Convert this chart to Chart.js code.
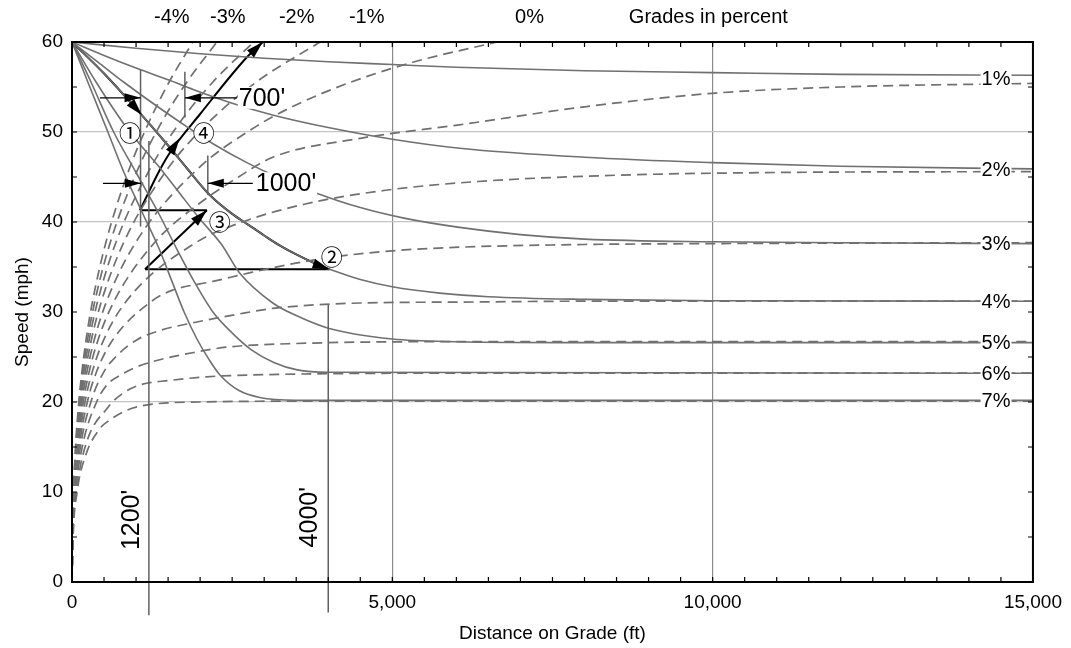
<!DOCTYPE html>
<html><head><meta charset="utf-8">
<script src="https://cdn.jsdelivr.net/npm/chart.js@4.4.1/dist/chart.umd.min.js"></script>
<style>html,body{margin:0;padding:0;background:#fff;}#c{display:block;}</style>
</head><body>
<canvas id="c" width="1071" height="648"></canvas>
<script>
// ---------- DATA (distance on grade in ft, speed in mph) ----------
// Deceleration curves (solid), upgrades 1%..7%
const decel1 = [[0,60],[1000,59.3],[2000,58.7],[3000,58.2],[4000,57.8],[5000,57.5],[6000,57.2],[8000,56.8],[10000,56.6],[12000,56.4],[15000,56.3]];
const decel2 = [[0,60],[500,58.5],[1000,57.1],[1500,55.8],[1900,54.7],[2500,53.2],[3130,51.9],[4000,50.5],[5000,49.2],[6050,48.2],[8000,47.2],[10000,46.6],[12000,46.2],[15000,45.9]];
const decel3 = [[0,60],[400,57.8],[816,55.5],[1300,53],[1790,50.6],[2200,48.7],[2730,46.6],[3300,44.7],[3820,43.2],[4500,41.6],[5200,40.4],[6050,39.4],[7000,38.6],[8000,38.1],[10000,37.8],[12000,37.7],[15000,37.6]];
const decel4 = [[0,60],[500,56.5],[1000,52.6],[1500,48.5],[1790,46.0],[2150,43.0],[2500,40.9],[2730,39.8],[3000,38.5],[3240,37.4],[3500,36.4],[3920,35.0],[4020,34.75],[4500,33.6],[5000,32.8],[5740,32.1],[6500,31.7],[8000,31.4],[10000,31.25],[15000,31.2]];
const decel5 = [[0,60],[380,55.5],[850,50.5],[1407,45.7],[1680,43.2],[2000,40.3],[2335,37.5],[2620,34.3],[3134,31],[3500,29.6],[4000,28.2],[5000,27],[6000,26.7],[8000,26.6],[15000,26.6]];
const decel6 = [[0,60],[300,55.5],[650,50],[1000,45.5],[1350,41],[1650,36.8],[1890,33.6],[2200,30],[2510,27.6],[2800,25.8],[3150,24.4],[3500,23.6],[4000,23.3],[15000,23.2]];
const decel7 = [[0,60],[250,55.5],[560,50],[800,45.7],[1100,41],[1350,37.2],[1550,33.6],[1750,30],[1950,27],[2150,24.6],[2310,23],[2600,21.3],[2930,20.5],[3500,20.2],[15000,20.2]];

// Acceleration curves (dashed), grades -4%..7%
const accelM4 = [[0,0],[5,5],[23,10],[55,15],[109,20.2],[154,23.3],[217,26.8],[321,31.2],[528,37.7],[884,45.7],[1195,51],[1512,55.5],[1886,60]];
const accelM3 = [[0,0],[6,5],[25,10],[60,15],[118,20.2],[168,23.3],[239,26.8],[357,31.2],[596,37.7],[1018,45.7],[1392,51],[1788,55.5],[2261,60]];
const accelM2 = [[0,0],[6,5],[26,10],[65,15],[129,20.2],[184,23.3],[265,26.8],[401,31.2],[684,37.7],[1202,45.7],[1678,51],[2192,55.5],[2836,60]];
const accelM1 = [[0,0],[6.5,5],[28.5,10],[71,15],[143,20.2],[206,23.3],[299,26.8],[460,31.2],[806,37.7],[1471,45.7],[2122,51],[2868,55.5],[3871,60]];
const accel0  = [[0,0],[7,5],[31,10],[78,15],[160,20.2],[232,23.3],[343,26.8],[541,31.2],[992,37.7],[1932,45.7],[2870,50.6],[3495,53],[4337,55.5],[5317,57.75],[6634,60]];
const accel1  = [[0,0],[7.7,5],[34,10],[86,15],[181,20.2],[266,23.3],[402,26.8],[657,31.2],[1287,37.7],[1977,42],[2600,45],[3134,47.2],[4500,49.3],[6050,50.8],[8000,52.8],[10000,54.3],[12000,55],[15000,55.4]];
const accel2  = [[0,0],[8.4,5],[38,10],[98,15],[209,20.2],[314,23.3],[488,26.8],[847,31.2],[1932,37.7],[2660,40],[3640,42],[4867,43.5],[6342,44.5],[8511,45.2],[11000,45.5],[15000,45.6]];
const accel3  = [[0,0],[9.3,5],[43,10],[112,15],[246,20.2],[380,23.3],[627,26.8],[1244,31.2],[1560,32.4],[2200,33.4],[2800,34.4],[3400,35.3],[4070,36.1],[5000,36.8],[6050,37.2],[8000,37.5],[10000,37.6],[15000,37.7]];
const accel4  = [[0,0],[10.5,5],[49,10],[131,15],[303,20.2],[493,23.3],[680,25],[1010,26.9],[1400,28],[1890,28.8],[2700,29.9],[3134,30.4],[4500,31],[6050,31.1],[8000,31.2],[15000,31.2]];
const accel5  = [[0,0],[12,5],[57,10],[160,15],[397,20.2],[560,22],[760,23],[1010,23.9],[1370,24.7],[1900,25.5],[2420,26.1],[3500,26.5],[6050,26.7],[15000,26.7]];
const accel6  = [[0,0],[14,5],[70,10],[205,15],[560,19.4],[800,21],[1060,21.9],[1530,22.4],[2100,22.8],[2776,23],[6050,23.2],[15000,23.2]];
const accel7  = [[0,0],[17,5],[80,10],[210,14],[430,17],[590,18],[860,19.1],[1200,19.7],[2000,20],[4000,20.1],[15000,20.1]];

// Worked example (black)
const exDecel  = [[0,60],[500,56.5],[1000,52.6],[1500,48.5],[1790,46.0],[2150,43.0],[2500,40.9],[2730,39.8],[3000,38.5],[3240,37.4],[3500,36.4],[3920,35.0],[4020,34.75]];
const exFlatA  = [[1140,34.75],[4020,34.75]];
const exUpA    = [[1140,34.75],[2105,41.3]];
const exFlatB  = [[1060,41.3],[2105,41.3]];
const exUpB    = [[1060,41.3],[1372,45.8],[1528,47.7],[2000,52],[2729,58.3],[2978,60]];
const exArrows = [[[900,53.4],[1090,51.9]],[[3800,35.3],[4020,34.75]],[[1140,34.75],[2105,41.3]],[[1528,47.7],[1680,49.3]],[[2729,58.3],[2978,60]]];

// Reference lines [distance, speed from, speed to]
const refLines = [[1070,56.9,39.5],[1762,56.7,51.6],[2120,47.4,43.0],[1200,49.0,-3.7],[4000,30.8,-3.4]];
// Dimension arrows [tail distance, tip distance, speed]
const dimArrows = [[437,1070,53.8],[2573,1762,53.8],[483,1075,44.3],[2822,2120,44.3]];
const dimLabels = [["700'",2588,53.8],["1000'",2853,44.3]];
const vertLabels = [["1200'",931,6.9],["4000'",3711,7.2]];
const stepLabels = [["①",904,50],["②",4054,36.3],["③",2308,40.2],["④",2058,50]];

// Grade labels
const upGrades = ['1%','2%','3%','4%','5%','6%','7%'];
const upGradeSpeeds = [55.9,45.8,37.6,31.2,26.6,23.2,20.2];
const upLabelDist = 14424;
const downGrades = ['-4%','-3%','-2%','-1%','0%'];
const downGradeDist = [1559,2433,3508,4600,7142];
const gradesTitle = 'Grades in percent';
const gradesTitleDist = 9933;
const topLabelSpeed = 62.7;

const xTicks = [0,5000,10000,15000];
const yTicks = [0,10,20,30,40,50,60];
const xGrid = [5000,10000];
const yGrid = [20,40,50];

// ---------- CHART ----------
const FONT = '"Liberation Sans", Arial, Helvetica, sans-serif';
const GRAY = '#707070';
const toPts = a => a.map(p => ({x:p[0], y:p[1]}));
function ds(arr, dashed, color, width){
  return {data: toPts(arr), borderColor: color, borderWidth: width, borderDash: dashed ? [10,6] : [],
    pointRadius: 0, fill: false, cubicInterpolationMode: 'monotone', borderCapStyle: 'butt'};
}
const datasets = [];
[accelM4,accelM3,accelM2,accelM1,accel0,accel1,accel2,accel3,accel4,accel5,accel6,accel7].forEach(a => datasets.push(ds(a,true,GRAY,1.7)));
[decel1,decel2,decel3,decel4,decel5,decel6,decel7].forEach(a => datasets.push(ds(a,false,GRAY,1.6)));
[exDecel,exFlatA,exUpA,exFlatB,exUpB].forEach(a => datasets.push(ds(a,false,'#000',2)));

function arrowHead(ctx,x1,y1,x2,y2,len,hw){
  const a = Math.atan2(y2-y1,x2-x1), c = Math.cos(a), s = Math.sin(a);
  ctx.beginPath();
  ctx.moveTo(x2,y2);
  ctx.lineTo(x2-len*c+hw*s, y2-len*s-hw*c);
  ctx.lineTo(x2-len*c-hw*s, y2-len*s+hw*c);
  ctx.closePath(); ctx.fill();
}

const annot = {
  id: 'annot',
  afterDraw(chart){
    const ctx = chart.ctx, xs = chart.scales.x, ys = chart.scales.y, ca = chart.chartArea;
    const X = v => xs.getPixelForValue(v), Y = v => ys.getPixelForValue(v);
    ctx.save();
    ctx.strokeStyle = '#606060'; ctx.lineWidth = 1.5;
    refLines.forEach(r => { ctx.beginPath(); ctx.moveTo(X(r[0]),Y(r[1])); ctx.lineTo(X(r[0]),Y(r[2])); ctx.stroke(); });
    ctx.strokeStyle = '#000'; ctx.fillStyle = '#000'; ctx.lineWidth = 1.3;
    dimArrows.forEach(d => {
      const x1 = X(d[0]), x2 = X(d[1]), y = Y(d[2]);
      ctx.beginPath(); ctx.moveTo(x1,y); ctx.lineTo(x2,y); ctx.stroke();
      arrowHead(ctx,x1,y,x2,y,16,4.5);
    });
    exArrows.forEach(a => arrowHead(ctx,X(a[0][0]),Y(a[0][1]),X(a[1][0]),Y(a[1][1]),17,5));
    ctx.font = '25px ' + FONT; ctx.textBaseline = 'middle'; ctx.textAlign = 'left';
    dimLabels.forEach(l => {
      const w = ctx.measureText(l[0]).width, x = X(l[1]), y = Y(l[2]);
      ctx.fillStyle = '#fff'; ctx.fillRect(x, y-11, w+2, 22);
      ctx.fillStyle = '#000'; ctx.fillText(l[0], x+1, y+1);
    });
    ctx.font = '25px ' + FONT; ctx.textAlign = 'center';
    vertLabels.forEach(l => {
      ctx.save(); ctx.translate(X(l[1]), Y(l[2])); ctx.rotate(-Math.PI/2);
      ctx.fillStyle = '#000'; ctx.fillText(l[0], 0, 0); ctx.restore();
    });
    stepLabels.forEach(l => {
      const x = X(l[1]), y = Y(l[2]);
      ctx.fillStyle = '#fff'; ctx.beginPath(); ctx.arc(x,y,10,0,Math.PI*2); ctx.fill();
      ctx.fillStyle = '#000'; ctx.font = '22px "Noto Sans CJK JP", "DejaVu Sans", sans-serif';
      ctx.textAlign = 'center'; ctx.textBaseline = 'middle'; ctx.fillText(l[0], x, y+1);
    });
    ctx.font = '20px ' + FONT; ctx.textAlign = 'center'; ctx.textBaseline = 'middle';
    upGrades.forEach((g,i) => {
      const x = X(upLabelDist), y = Y(upGradeSpeeds[i]), w = ctx.measureText(g).width;
      ctx.fillStyle = '#fff'; ctx.fillRect(x-w/2-1, y-8, w+2, 16);
      ctx.fillStyle = '#000'; ctx.fillText(g, x, y+1);
    });
    ctx.fillStyle = '#000';
    downGrades.forEach((g,i) => ctx.fillText(g, X(downGradeDist[i]), Y(topLabelSpeed)));
    ctx.fillText(gradesTitle, X(gradesTitleDist), Y(topLabelSpeed));
    ctx.strokeStyle = '#000'; ctx.lineWidth = 2;
    ctx.strokeRect(ca.left, ca.top, ca.right-ca.left, ca.bottom-ca.top);
    ctx.lineWidth = 1.2;
    ctx.beginPath();
    for (let v = 0; v <= 15000; v += 500) {
      const x = X(v);
      ctx.moveTo(x, ca.bottom); ctx.lineTo(x, ca.bottom-5);
      ctx.moveTo(x, ca.top); ctx.lineTo(x, ca.top+5);
    }
    for (let v = 0; v <= 60; v += 5) {
      const y = Y(v);
      ctx.moveTo(ca.left, y); ctx.lineTo(ca.left+5, y);
      ctx.moveTo(ca.right, y); ctx.lineTo(ca.right-5, y);
    }
    ctx.stroke();
    ctx.restore();
  }
};

new Chart(document.getElementById('c'), {
  type: 'line',
  data: { datasets },
  options: {
    responsive: false, animation: false, devicePixelRatio: 1,
    layout: { padding: { top: 42, right: 37, left: 0, bottom: 0 } },
    plugins: { legend: {display:false}, tooltip: {enabled:false} },
    scales: {
      x: { type: 'linear', min: 0, max: 15000,
        afterFit(s){ s.height = 66; },
        afterBuildTicks(s){ s.ticks = xTicks.map(v => ({value:v})); },
        ticks: { font:{family:FONT,size:19}, color:'#000', padding:9, maxRotation:0, autoSkip:false,
          callback: v => Number(v).toLocaleString('en-US') },
        grid: { drawTicks:false, lineWidth:1.2,
          color: c => (c.tick && xGrid.includes(c.tick.value)) ? '#8a8a8a' : 'rgba(0,0,0,0)' },
        border: { display:false },
        title: { display:true, text:'Distance on Grade (ft)', font:{family:FONT,size:19}, color:'#000', padding:{top:2,bottom:3} } },
      y: { min: 0, max: 60,
        afterFit(s){ s.width = 72; },
        afterBuildTicks(s){ s.ticks = yTicks.map(v => ({value:v})); },
        ticks: { font:{family:FONT,size:19}, color:'#000', padding:9 },
        grid: { drawTicks:false, lineWidth:1.2,
          color: c => (c.tick && yGrid.includes(c.tick.value)) ? '#c4c4c4' : 'rgba(0,0,0,0)' },
        border: { display:false },
        title: { display:true, text:'Speed (mph)', font:{family:FONT,size:19}, color:'#000', padding:{top:11,bottom:4} } }
    }
  },
  plugins: [annot]
});
</script>
</body></html>
